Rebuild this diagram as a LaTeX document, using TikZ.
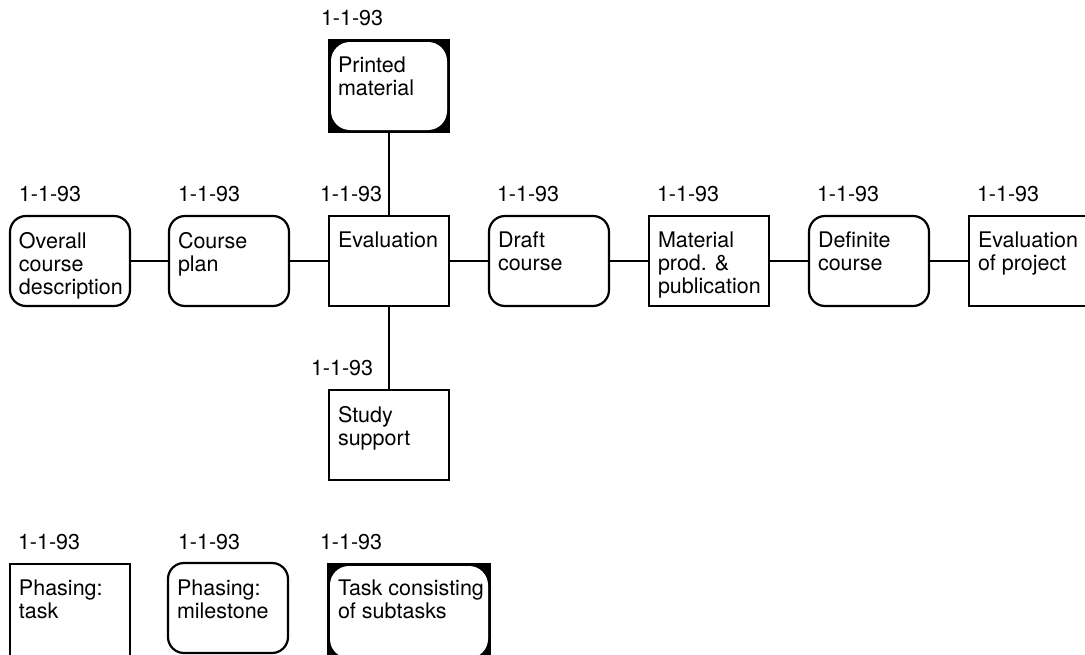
\documentclass[tikz,border=0pt]{standalone}
\usepackage{fontspec}
\setmainfont{TeX Gyre Heros}
\begin{document}
\begin{tikzpicture}[x=1pt,y=-1pt,
  every node/.style={inner sep=0pt,outer sep=0pt},
  taskbox/.style={draw,line width=2.2pt,minimum width=120pt,minimum height=90pt},
  milebox/.style={taskbox,rounded corners=16pt},
  groupbox/.style={taskbox,fill=black},
  txt/.style={font=\fontsize{21.5}{23}\selectfont,align=left,anchor=north west},
  datelbl/.style={font=\fontsize{21.5}{23}\selectfont,anchor=base west},
  link/.style={line width=2.2pt}]
\useasboundingbox (0,0) rectangle (1085,654);
\clip (0,0) rectangle (1085,654);

% main chain of phases
\node[milebox]  (overall)  at (70,261)   {};
\node[milebox]  (plan)     at (229,261)  {};
\node[taskbox]  (eval)     at (389,261)  {};
\node[milebox]  (draft)    at (549,261)  {};
\node[taskbox]  (matprod)  at (709,261)  {};
\node[milebox]  (definite) at (869,261)  {};
\node[taskbox]  (evalproj) at (1029,261) {};

% branches of the evaluation phase
\node[groupbox,minimum height=92pt] (printed) at (389,86) {};
\fill[white,rounded corners=19pt] ([shift={(2,-2)}]printed.south west) rectangle ([shift={(-2,2)}]printed.north east);
\node[taskbox]  (study)    at (389,435)  {};

% legend
\node[taskbox,minimum height=100pt] (lgtask) at (70,614) {};
\node[milebox]  (lgmile)   at (228,608)  {};
\node[groupbox,minimum width=162pt,minimum height=96pt] (lgsub) at (409,612) {};
\fill[white,rounded corners=19pt] ([shift={(2,-2)}]lgsub.south west) rectangle ([shift={(-2,2)}]lgsub.north east);

% connectors
\draw[link] (overall) -- (plan);
\draw[link] (plan) -- (eval);
\draw[link] (eval) -- (draft);
\draw[link] (draft) -- (matprod);
\draw[link] (matprod) -- (definite);
\draw[link] (definite) -- (evalproj);
\draw[link] (printed) -- (eval);
\draw[link] (eval) -- (study);

% box texts
\node[txt] (t-overall)  at (19,232)  {Overall\\course\\description};
\node[txt] (t-plan)     at (178,232) {Course\\plan};
\node[txt] (t-eval)     at (338,232) {Evaluation};
\node[txt] (t-draft)    at (498,232) {Draft\\course};
\node[txt] (t-matprod)  at (658,232) {Material\\prod. \&\\publication};
\node[txt] (t-definite) at (818,232) {Definite\\course};
\node[txt] (t-evalproj) at (978,232) {Evaluation\\of project};
\node[txt] (t-printed)  at (338,57)  {Printed\\material};
\node[txt] (t-study)    at (338,406) {Study\\support};
\node[txt] (t-lgtask)   at (19,580)  {Phasing:\\task};
\node[txt] (t-lgmile)   at (177,580) {Phasing:\\milestone};
\node[txt] (t-lgsub)    at (338,580) {Task consisting\\of subtasks};

% dates
\node[datelbl] (d-overall)  at (19,201)  {1-1-93};
\node[datelbl] (d-plan)     at (178,201) {1-1-93};
\node[datelbl] (d-eval)     at (320,201) {1-1-93};
\node[datelbl] (d-draft)    at (497,201) {1-1-93};
\node[datelbl] (d-matprod)  at (657,201) {1-1-93};
\node[datelbl] (d-definite) at (817,201) {1-1-93};
\node[datelbl] (d-evalproj) at (977,201) {1-1-93};
\node[datelbl] (d-printed)  at (321,25)  {1-1-93};
\node[datelbl] (d-study)    at (311,375) {1-1-93};
\node[datelbl] (d-lgtask)   at (18,549)  {1-1-93};
\node[datelbl] (d-lgmile)   at (178,549) {1-1-93};
\node[datelbl] (d-lgsub)    at (320,549) {1-1-93};
\end{tikzpicture}
\end{document}
